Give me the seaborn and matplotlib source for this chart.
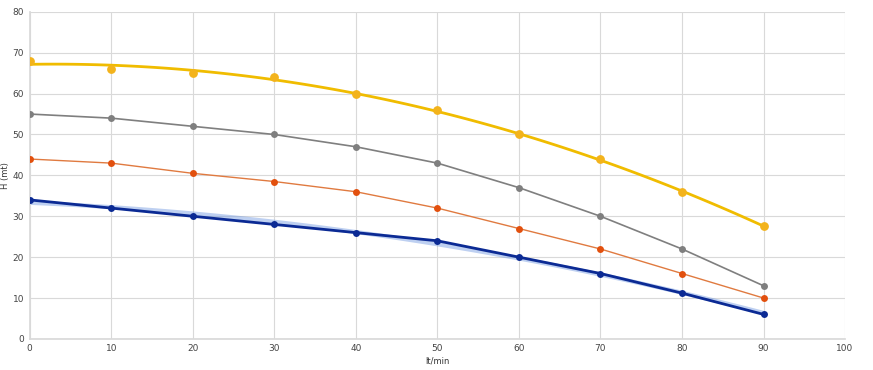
import numpy as np
import pandas as pd
import matplotlib
matplotlib.use('Agg')
import matplotlib.pyplot as plt
import seaborn as sns

# Datos (caudal lt/min vs altura H)
caudal = [0, 10, 20, 30, 40, 50, 60, 70, 80, 90]
h_amarillo = [68, 66, 65, 64, 60, 56, 50, 44, 36, 27.5]
h_gris = [55, 54, 52, 50, 47, 43, 37, 30, 22, 13]
h_naranja = [44, 43, 40.5, 38.5, 36, 32, 27, 22, 16, 10]
h_azul = [34, 32, 30, 28, 26, 24, 20, 16, 11.2, 6]

x_ticks = list(range(0, 101, 10))
y_ticks = list(range(0, 81, 10))

sns.set_theme(style='white')
plt.rcParams['font.family'] = ['DejaVu Sans']

df = pd.DataFrame({'Q': caudal, 'amarillo': h_amarillo, 'gris': h_gris,
                   'naranja': h_naranja, 'azul': h_azul})

fig = plt.figure(figsize=(8.73, 3.70), dpi=100)
ax = fig.add_axes([0.034, 0.084, 0.934, 0.884])

# curva amarilla: línea de tendencia + puntos
sns.regplot(data=df, x='Q', y='amarillo', order=2, ci=None, ax=ax,
            scatter_kws={'s': 28, 'color': '#f3b31c', 'alpha': 1, 'zorder': 4},
            line_kws={'color': '#f0bc00', 'lw': 2.0, 'zorder': 3})

# curva gris
sns.lineplot(data=df, x='Q', y='gris', ax=ax, color='#7f7f7f', lw=1.2,
             marker='o', markersize=5, markeredgewidth=0, zorder=3)

# curva naranja
sns.lineplot(data=df, x='Q', y='naranja', ax=ax, color='#e07a40', lw=1.0,
             marker='o', markersize=5, markerfacecolor='#e2500e',
             markeredgewidth=0, zorder=3)

# curva azul: tendencia + datos
sns.regplot(data=df, x='Q', y='azul', order=2, ci=None, ax=ax, scatter=False,
            line_kws={'color': '#6f97e0', 'lw': 3.0, 'alpha': 0.45, 'zorder': 2})
sns.lineplot(data=df, x='Q', y='azul', ax=ax, color='#0b2a94', lw=2.0,
             marker='o', markersize=5, markeredgewidth=0, zorder=4)

ax.set_xlim(0, 100)
ax.set_ylim(0, 80)
ax.set_xticks(x_ticks)
ax.set_yticks(y_ticks)
ax.tick_params(labelsize=6.5, colors='#444444', length=0, pad=4)
ax.grid(True, color='#d9d9d9', lw=0.8)
for s in ax.spines.values():
    s.set_visible(False)
ax.spines['left'].set_visible(True)
ax.spines['bottom'].set_visible(True)
ax.spines['left'].set_color('#d9d9d9')
ax.spines['bottom'].set_color('#d9d9d9')
ax.set_xlabel('lt/min', fontsize=6, color='#333333', labelpad=2)
ax.set_ylabel('H (mt)', fontsize=6, color='#333333', labelpad=2)

fig.savefig('out.png', dpi=100)
